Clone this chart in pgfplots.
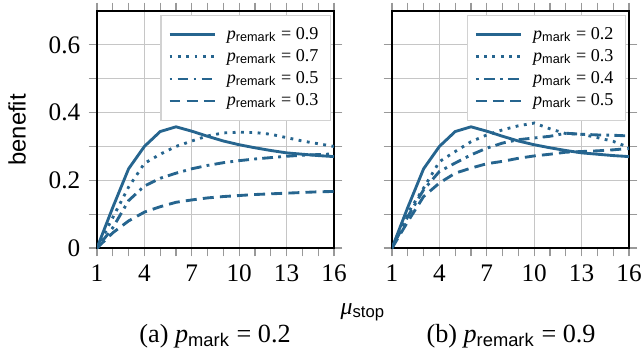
\documentclass[border=0pt]{standalone}
\usepackage{fontspec}
\setmainfont{Liberation Serif}
\setsansfont{Liberation Sans}
\usepackage{pgfplots}
\pgfplotsset{compat=1.18}
\usepackage{pgfplotstable}
\definecolor{myblue}{RGB}{38,101,143}

\pgfplotstableread{
x   a     b     c     d
1   0     0     0     0
2   0.120 0.090 0.060 0.045
3   0.234 0.180 0.140 0.080
4   0.300 0.250 0.183 0.106
5   0.344 0.277 0.206 0.122
6   0.358 0.300 0.221 0.135
7   0.345 0.316 0.234 0.142
8   0.330 0.331 0.244 0.148
9   0.316 0.340 0.252 0.152
10  0.305 0.342 0.258 0.155
11  0.296 0.341 0.263 0.158
12  0.288 0.336 0.267 0.160
13  0.281 0.326 0.271 0.162
14  0.277 0.316 0.274 0.164
15  0.273 0.308 0.276 0.166
16  0.270 0.300 0.278 0.167
}\lefttable

\pgfplotstableread{
x   a     b     c     d
1   0     0     0     0
2   0.120 0.103 0.093 0.078
3   0.234 0.177 0.172 0.152
4   0.300 0.255 0.226 0.192
5   0.344 0.285 0.251 0.221
6   0.358 0.314 0.275 0.236
7   0.345 0.334 0.295 0.249
8   0.330 0.349 0.310 0.256
9   0.316 0.361 0.320 0.265
10  0.305 0.369 0.325 0.272
11  0.296 0.352 0.330 0.277
12  0.288 0.338 0.339 0.283
13  0.281 0.336 0.336 0.285
14  0.277 0.326 0.334 0.287
15  0.273 0.315 0.333 0.290
16  0.270 0.297 0.331 0.294
}\righttable

\pgfplotsset{
  myaxis/.style={
    scale only axis, width=99.54pt, height=99.54pt,
    xmin=1, xmax=16, ymin=0, ymax=0.7,
    xtick={1,4,...,16}, minor x tick num=2,
    ytick={0,0.2,0.4,0.6}, minor ytick={0.1,0.3,0.5},
    xmajorgrids, ymajorgrids, yminorgrids,
    grid style={gray!45, line width=0.5pt},
    minor grid style={gray!45, line width=0.5pt},
    tick align=outside, major tick length=3.5pt, minor tick length=3.5pt,
    tick style={gray!80, line width=0.45pt},
    minor tick style={gray!80, line width=0.45pt},
    axis line style={black, line width=0.6pt},
    tick label style={font=\rmfamily\fontsize{10.6}{12}\selectfont},
    /pgf/number format/assume math mode=true,
    legend cell align=left,
    legend style={at={(1,1)}, anchor=north east, xshift=-1.3pt, yshift=-1.5pt,
      draw=gray!35, line width=0.5pt, font=\rmfamily\fontsize{7.6}{8.8}\selectfont,
      inner xsep=3pt, inner ysep=3pt, row sep=-1.3pt},
    legend image code/.code={\draw[##1] (0pt,0pt) -- (19pt,0pt); \path (21.5pt,0pt);},
  },
  s1/.style={myblue, line width=1.2pt, solid},
  s2/.style={myblue, line width=1.2pt, dash pattern=on 1.2pt off 2.3pt},
  s3/.style={myblue, line width=1.2pt, dash pattern=on 1.2pt off 2.2pt on 4.5pt off 2.2pt},
  s4/.style={myblue, line width=1.2pt, dash pattern=on 4.6pt off 2.6pt},
}

\begin{document}
\begin{tikzpicture}
\useasboundingbox (-40.74pt,-43.68pt) rectangle (229.32pt,104.16pt);
\begin{axis}[myaxis, name=left, at={(0pt,0pt)}, anchor=south west]
\addplot[s1] table[x=x,y=a] {\lefttable};
\addlegendentry{\textit{p}\textsubscript{\sffamily remark} = 0.9}
\addplot[s2] table[x=x,y=b] {\lefttable};
\addlegendentry{\textit{p}\textsubscript{\sffamily remark} = 0.7}
\addplot[s3] table[x=x,y=c] {\lefttable};
\addlegendentry{\textit{p}\textsubscript{\sffamily remark} = 0.5}
\addplot[s4] table[x=x,y=d] {\lefttable};
\addlegendentry{\textit{p}\textsubscript{\sffamily remark} = 0.3}
\end{axis}
\begin{axis}[myaxis, name=right, at={(123.9pt,0pt)}, anchor=south west, yticklabels={}]
\addplot[s1] table[x=x,y=a] {\righttable};
\addlegendentry{\textit{p}\textsubscript{\sffamily mark} = 0.2}
\addplot[s2] table[x=x,y=b] {\righttable};
\addlegendentry{\textit{p}\textsubscript{\sffamily mark} = 0.3}
\addplot[s3] table[x=x,y=c] {\righttable};
\addlegendentry{\textit{p}\textsubscript{\sffamily mark} = 0.4}
\addplot[s4] table[x=x,y=d] {\righttable};
\addlegendentry{\textit{p}\textsubscript{\sffamily mark} = 0.5}
\end{axis}
\node[rotate=90, font=\sffamily\fontsize{10}{12}\selectfont] at (-33.6pt,49.6pt) {benefit};
\node[font=\rmfamily\fontsize{10}{12}\selectfont] at (111.7pt,-26.9pt) {\textit{μ}\textsubscript{\sffamily stop}};
\node[font=\rmfamily\fontsize{11}{13}\selectfont] at (49.6pt,-37pt) {(a) \textit{p}\textsubscript{\sffamily mark} = 0.2};
\node[font=\rmfamily\fontsize{11}{13}\selectfont] at (173.9pt,-37pt) {(b) \textit{p}\textsubscript{\sffamily remark} = 0.9};
\end{tikzpicture}
\end{document}
